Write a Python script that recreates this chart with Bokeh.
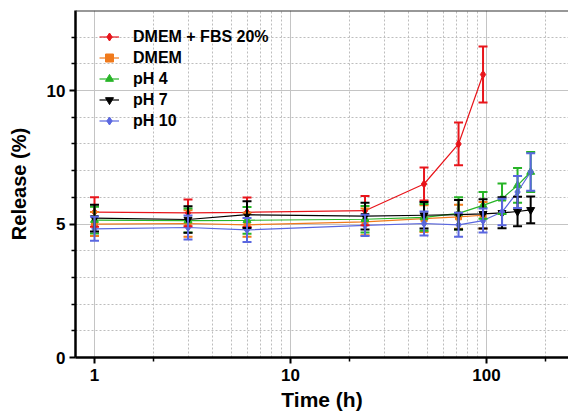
from bokeh.plotting import figure
from bokeh.models import (ColumnDataSource, Whisker, TeeHead, FixedTicker, Legend,
                          LegendItem, Span, Range1d, NumeralTickFormatter)
from bokeh.embed import file_html
from bokeh.resources import INLINE

# ---- data ----
time_h = [1, 3, 6, 24, 48, 72, 96, 120, 144, 168]

fbs_y = [5.45, 5.42, 5.44, 5.50, 6.50, 8.00, 10.60]
fbs_err = [0.55, 0.50, 0.55, 0.55, 0.62, 0.80, 1.05]

dmem_y = [5.00, 5.02, 4.97, 5.08, 5.20, 5.27, 5.33]
dmem_err = [0.45, 0.50, 0.45, 0.50, 0.50, 0.45, 0.50]

ph4_y = [5.15, 5.13, 5.14, 5.18, 5.25, 5.40, 5.70, 5.95, 6.45, 6.95]
ph4_err = [0.50, 0.45, 0.50, 0.50, 0.50, 0.60, 0.50, 0.57, 0.65, 0.75]

ph7_y = [5.22, 5.17, 5.35, 5.30, 5.33, 5.35, 5.38, 5.42, 5.47, 5.53]
ph7_err = [0.50, 0.50, 0.50, 0.50, 0.50, 0.55, 0.55, 0.58, 0.55, 0.50]

ph10_y = [4.82, 4.87, 4.78, 4.95, 5.02, 4.97, 5.13, 5.45, 6.20, 6.95]
ph10_err = [0.45, 0.45, 0.45, 0.40, 0.45, 0.45, 0.45, 0.50, 0.60, 0.70]

labels = ["DMEM + FBS 20%", "DMEM", "pH 4", "pH 7", "pH 10"]
colors = ["#e8151b", "#f07a1c", "#27b427", "#000000", "#5a67e0"]
markers = ["diamond", "square", "triangle", "inverted_triangle", "diamond"]

x_major_ticks = [1, 10, 100]
x_minor_ticks = [2, 20, 200]
x_grid_minor = [2, 3, 4, 5, 6, 7, 8, 9, 20, 30, 40, 50, 60, 70, 80, 90, 200]
y_major_ticks = [0, 5, 10]
y_minor_ticks = [1, 2, 3, 4, 6, 7, 8, 9, 11, 12]

FONT = "Liberation Sans"

p = figure(width=568, height=413, x_axis_type="log",
           x_range=Range1d(0.8, 262), y_range=Range1d(0, 13),
           output_backend="svg", toolbar_location=None,
           min_border_left=75, min_border_right=0, min_border_top=10,
           min_border_bottom=56)
p.outline_line_color = None
p.background_fill_color = "white"

# grids
p.xgrid.ticker = FixedTicker(ticks=x_major_ticks, minor_ticks=x_grid_minor)
p.ygrid.ticker = FixedTicker(ticks=[5, 10], minor_ticks=y_minor_ticks)
for g in (p.xgrid, p.ygrid):
    g.grid_line_color = "#c4c4c4"
    g.grid_line_width = 1
    g.minor_grid_line_color = "#bdbdbd"
    g.minor_grid_line_dash = "2 2"
    g.minor_grid_line_width = 1

# axes
p.xaxis.ticker = FixedTicker(ticks=x_major_ticks, minor_ticks=x_minor_ticks)
p.xaxis.formatter = NumeralTickFormatter(format="0")
p.yaxis.ticker = FixedTicker(ticks=y_major_ticks, minor_ticks=y_minor_ticks)
p.xaxis.axis_label = "Time (h)"
p.yaxis.axis_label = "Release (%)"
for ax in (p.xaxis, p.yaxis):
    ax.axis_line_width = 2.5
    ax.axis_line_color = "black"
    ax.major_tick_line_width = 2
    ax.minor_tick_line_width = 1.5
    ax.major_tick_out = 6
    ax.major_tick_in = 0
    ax.minor_tick_out = 4
    ax.minor_tick_in = 0
    ax.major_label_text_font = FONT
    ax.major_label_text_font_style = "bold"
    ax.major_label_text_font_size = "17px"
    ax.major_label_text_color = "black"
    ax.axis_label_text_font = FONT
    ax.axis_label_text_font_style = "bold"
    ax.axis_label_text_color = "black"
p.xaxis.axis_label_text_font_size = "21px"
p.yaxis.axis_label_text_font_size = "20px"
p.xaxis.major_label_standoff = 5
p.xaxis.axis_label_standoff = 4
p.yaxis.major_label_standoff = 4
p.yaxis.axis_label_standoff = 14

# top border
p.add_layout(Span(location=13, dimension="width", line_color="#333333", line_width=2))

series = [(fbs_y, fbs_err), (dmem_y, dmem_err), (ph4_y, ph4_err),
          (ph7_y, ph7_err), (ph10_y, ph10_err)]
items = []
for (ys, errs), lab, col, mk in zip(series, labels, colors, markers):
    n = len(ys)
    src = ColumnDataSource(dict(
        x=time_h[:n], y=ys,
        upper=[v + e for v, e in zip(ys, errs)],
        lower=[v - e for v, e in zip(ys, errs)]))
    ln = p.line("x", "y", source=src, line_color=col, line_width=1.2)
    w = Whisker(base="x", upper="upper", lower="lower", source=src,
                line_color=col, line_width=2, level="glyph",
                upper_head=TeeHead(size=9, line_color=col, line_width=2),
                lower_head=TeeHead(size=9, line_color=col, line_width=2))
    p.add_layout(w)
    sc = p.scatter("x", "y", source=src, marker=mk, size=8 if mk != "square" else 6,
                   fill_color=col, line_color=col)
    items.append(LegendItem(label=lab, renderers=[ln, sc]))

legend = Legend(items=items, location=(24, 226), margin=0, padding=0,
                background_fill_alpha=0, border_line_color=None,
                glyph_width=20, glyph_height=21, label_height=21, spacing=0,
                label_standoff=14,
                label_text_font=FONT, label_text_font_style="bold",
                label_text_font_size="16px", label_text_color="black")
p.add_layout(legend)

open("out.html", "w").write(file_html(p, INLINE))
